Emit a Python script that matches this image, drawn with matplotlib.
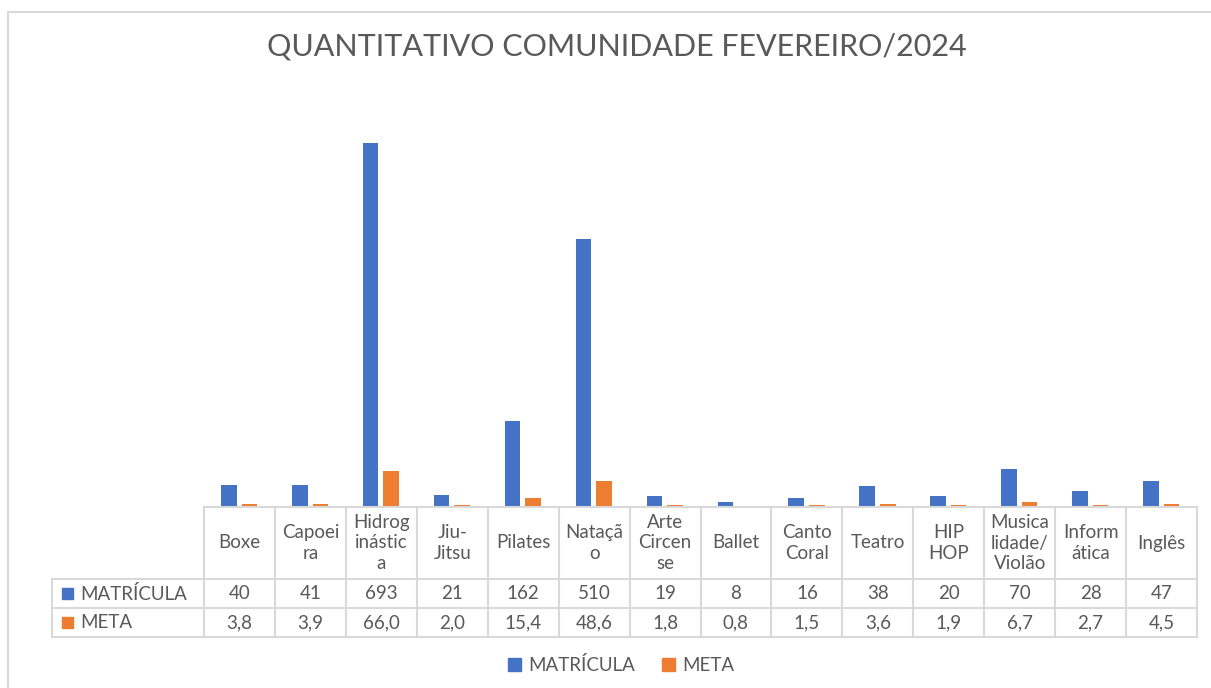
import matplotlib.pyplot as plt
import numpy as np
from matplotlib.transforms import blended_transform_factory
from matplotlib.lines import Line2D
from matplotlib.patches import Rectangle

# Categories as they appear (wrapped) in the data table
categorias = ["Boxe", "Capoei\nra", "Hidrog\ninástic\na", "Jiu-\nJitsu", "Pilates",
              "Nataçã\no", "Arte\nCircen\nse", "Ballet", "Canto\nCoral", "Teatro",
              "HIP\nHOP", "Musica\nlidade/\nViolão", "Inform\nática", "Inglês"]
matricula = [40, 41, 693, 21, 162, 510, 19, 8, 16, 38, 20, 70, 28, 47]
meta = [3.8, 3.9, 66.0, 2.0, 15.4, 48.6, 1.8, 0.8, 1.5, 3.6, 1.9, 6.7, 2.7, 4.5]

titulo = "QUANTITATIVO COMUNIDADE FEVEREIRO/2024"
cor_matricula = "#4472C4"
cor_meta = "#ED7D31"
cor_texto = "#595959"
cor_linha = "#D9D9D9"

plt.rcParams['font.family'] = ['Lato', 'DejaVu Sans']

W, H = 1211, 688
fig = plt.figure(figsize=(W / 100, H / 100), dpi=100)


def fy(py):
    return 1 - py / H


def fx(px):
    return px / W


# plot area
left, right, top, base = 204, 1197, 87, 506
ax = fig.add_axes([fx(left), fy(base), fx(right - left), (base - top) / H])
x = np.arange(len(categorias))
ax.bar(x - 0.15, matricula, width=0.22, color=cor_matricula)
ax.bar(x + 0.14, meta, width=0.22, color=cor_meta)
ax.set_xlim(-0.5, len(categorias) - 0.5)
ax.set_ylim(0, 800)
ax.axis('off')

fig.text(fx(617), fy(46), titulo, ha='center', va='center', fontsize=22, color=cor_texto)

# data table
fs = 13.5
tr = blended_transform_factory(ax.transData, fig.transFigure)
y_top, y_r1, y_r2, y_bot = 507, 579, 608, 637
lw = 1.5
for i in range(len(categorias) + 1):
    fig.add_artist(Line2D([i - 0.5, i - 0.5], [fy(y_top), fy(y_bot)], transform=tr,
                          color=cor_linha, lw=lw))
fig.add_artist(Line2D([fx(left), fx(right)], [fy(y_top)] * 2, color=cor_linha, lw=lw))
for yy in (y_r1, y_r2, y_bot):
    fig.add_artist(Line2D([fx(52), fx(right)], [fy(yy)] * 2, color=cor_linha, lw=lw))
fig.add_artist(Line2D([fx(52), fx(52)], [fy(y_r1), fy(y_bot)], color=cor_linha, lw=lw))

for i, cat in enumerate(categorias):
    fig.text(i, fy((y_top + y_r1) / 2), cat, transform=tr, ha='center', va='center',
             fontsize=fs, color=cor_texto, linespacing=1.28)
    fig.text(i, fy((y_r1 + y_r2) / 2), str(matricula[i]), transform=tr, ha='center',
             va='center', fontsize=fs, color=cor_texto)
    fig.text(i, fy((y_r2 + y_bot) / 2), f"{meta[i]:.1f}".replace('.', ','), transform=tr,
             ha='center', va='center', fontsize=fs, color=cor_texto)

for (yc, nome, cor) in [((y_r1 + y_r2) / 2, "MATRÍCULA", cor_matricula),
                        ((y_r2 + y_bot) / 2, "META", cor_meta)]:
    fig.add_artist(Rectangle((fx(62), fy(yc + 5)), 11 / W, 11 / H, color=cor,
                             transform=fig.transFigure))
    fig.text(fx(80), fy(yc), nome, ha='left', va='center', fontsize=fs, color=cor_texto)

# legend
handles = [Rectangle((0, 0), 1, 1, color=cor_matricula), Rectangle((0, 0), 1, 1, color=cor_meta)]
fig.legend(handles, ["MATRÍCULA", "META"], loc='center', bbox_to_anchor=(fx(621), fy(665)),
           ncol=2, frameon=False, fontsize=fs, labelcolor=cor_texto,
           handlelength=0.7, handleheight=0.7, handletextpad=0.4, columnspacing=1.4)

# chart border (cropped)
fig.add_artist(Line2D([fx(8), fx(8)], [fy(12), 0], color=cor_linha, lw=1.5))
fig.add_artist(Line2D([fx(8), 1], [fy(12), fy(12)], color=cor_linha, lw=1.5))

fig.savefig("out.png", dpi=100)
